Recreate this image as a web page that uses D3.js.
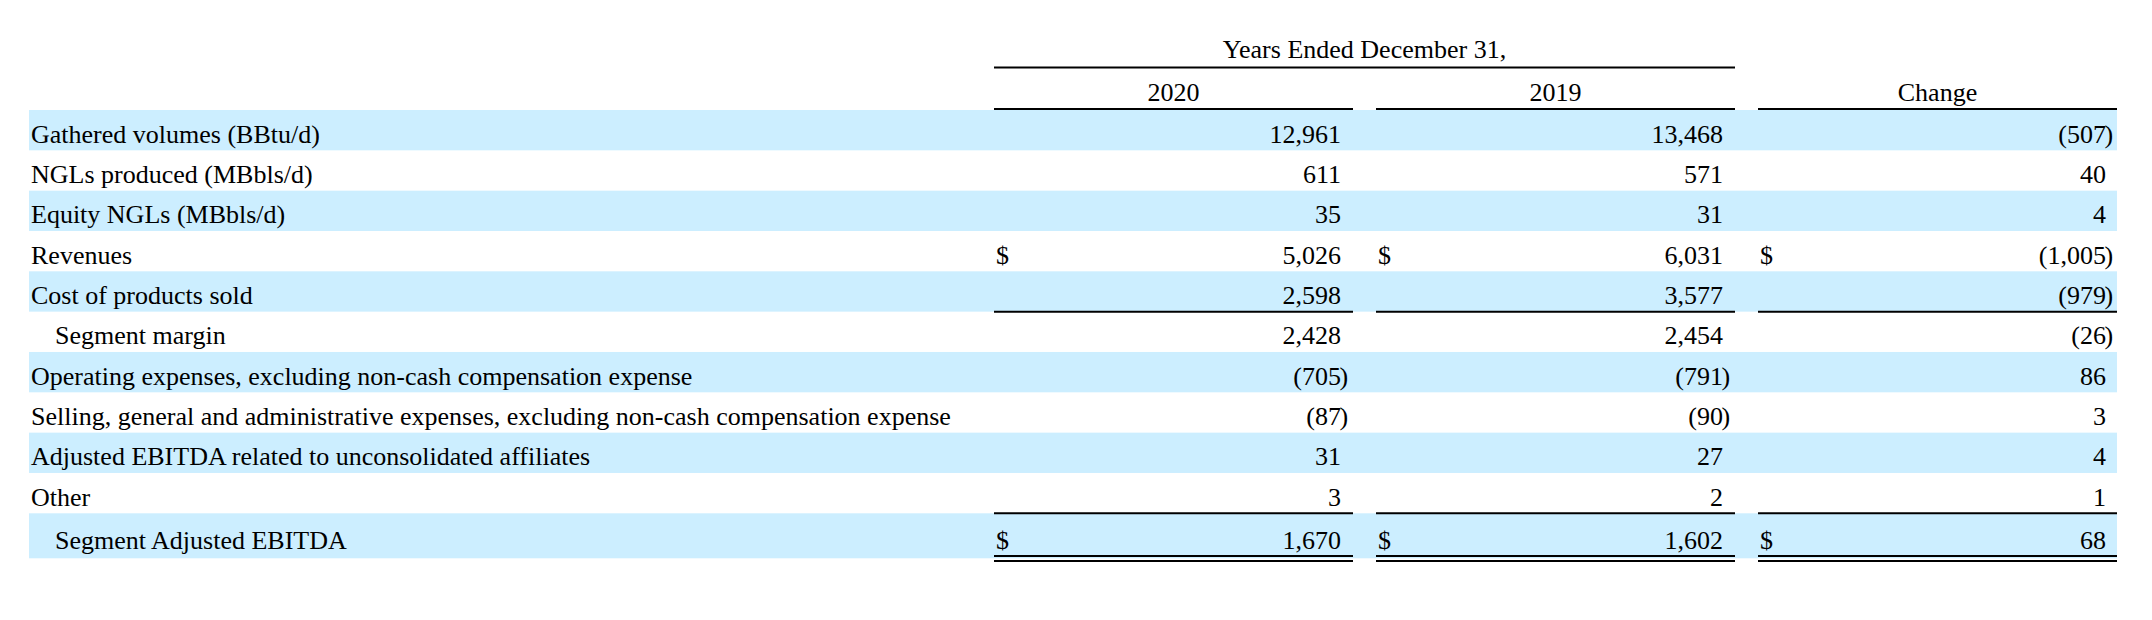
<!DOCTYPE html>
<html>
<head>
<meta charset="utf-8">
<script src="https://cdn.jsdelivr.net/npm/d3@7/dist/d3.min.js"></script>
<style>
  html, body { margin: 0; padding: 0; background: #ffffff; }
  svg { display: block; }
  text { font-family: "Liberation Serif", "Times New Roman", Times, serif; fill: #000; }
</style>
</head>
<body>
<svg id="chart" width="2152" height="620"></svg>
<script>
// ---- data ----
const headerTitle = "Years Ended December 31,";
const columnHeaders = ["2020", "2019", "Change"];
const rowLabels = [
  "Gathered volumes (BBtu/d)",
  "NGLs produced (MBbls/d)",
  "Equity NGLs (MBbls/d)",
  "Revenues",
  "Cost of products sold",
  "Segment margin",
  "Operating expenses, excluding non-cash compensation expense",
  "Selling, general and administrative expenses, excluding non-cash compensation expense",
  "Adjusted EBITDA related to unconsolidated affiliates",
  "Other",
  "Segment Adjusted EBITDA"
];
const values2020 = [12961, 611, 35, 5026, 2598, 2428, -705, -87, 31, 3, 1670];
const values2019 = [13468, 571, 31, 6031, 3577, 2454, -791, -90, 27, 2, 1602];
const valuesChange = [-507, 40, 4, -1005, -979, -26, 86, 3, 4, 1, 68];
const dollarRows = ["Revenues", "Segment Adjusted EBITDA"];
const subtotalRows = ["Segment margin", "Segment Adjusted EBITDA"];

// ---- layout ----
const svg = d3.select("#chart");
const fontSize = 26;
const bandLeft = 29, bandRight = 2117;
const cols = [
  { key: "2020", x0: 994, x1: 1353, numRight: 1341, values: values2020 },
  { key: "2019", x0: 1376, x1: 1735, numRight: 1723, values: values2019 },
  { key: "Change", x0: 1758, x1: 2117, numRight: 2106, values: valuesChange }
];
const lastRow = rowLabels.length - 1;
const y = d3.scaleLinear().domain([0, lastRow]).range([110, 513.3]);
const rowH = i => (i === lastRow ? 45 : 40.33);
const baseline = i => y(i) + (i === lastRow ? 35.5 : 32.6);
const fmt = d3.format(",");

// bands
svg.append("g").selectAll("rect")
  .data(rowLabels.map((d, i) => i).filter(i => i % 2 === 0))
  .join("rect")
  .attr("x", bandLeft)
  .attr("y", i => y(i))
  .attr("width", bandRight - bandLeft)
  .attr("height", i => rowH(i))
  .attr("fill", "#cceeff");

// header
svg.append("text")
  .attr("x", (cols[0].x0 + cols[1].x1) / 2)
  .attr("y", 58)
  .attr("text-anchor", "middle")
  .attr("font-size", fontSize)
  .text(headerTitle);
svg.append("line")
  .attr("x1", cols[0].x0).attr("x2", cols[1].x1)
  .attr("y1", 67.5).attr("y2", 67.5)
  .attr("stroke", "#000").attr("stroke-width", 2);

cols.forEach((c, ci) => {
  svg.append("text")
    .attr("x", (c.x0 + c.x1) / 2)
    .attr("y", 101)
    .attr("text-anchor", "middle")
    .attr("font-size", fontSize)
    .text(columnHeaders[ci]);
  svg.append("line")
    .attr("x1", c.x0).attr("x2", c.x1)
    .attr("y1", 109).attr("y2", 109)
    .attr("stroke", "#000").attr("stroke-width", 2);
});

// labels
svg.append("g").selectAll("text")
  .data(rowLabels)
  .join("text")
  .attr("x", d => subtotalRows.includes(d) ? 55 : 31)
  .attr("y", (d, i) => baseline(i))
  .attr("font-size", fontSize)
  .text(d => d);

// values
cols.forEach(c => {
  const g = svg.append("g");
  c.values.forEach((v, i) => {
    const by = baseline(i);
    if (v < 0) {
      g.append("text").attr("x", c.numRight).attr("y", by)
        .attr("text-anchor", "end").attr("font-size", fontSize)
        .text("(" + fmt(-v));
      g.append("text").attr("x", c.numRight - 1.5).attr("y", by)
        .attr("text-anchor", "start").attr("font-size", fontSize)
        .text(")");
    } else {
      g.append("text").attr("x", c.numRight).attr("y", by)
        .attr("text-anchor", "end").attr("font-size", fontSize)
        .text(fmt(v));
    }
    if (dollarRows.includes(rowLabels[i])) {
      g.append("text").attr("x", c.x0 + 2).attr("y", by)
        .attr("font-size", fontSize).text("$");
    }
  });
  const iCost = rowLabels.indexOf("Cost of products sold");
  const iOther = rowLabels.indexOf("Other");
  [y(iCost) + rowH(iCost), y(iOther) + rowH(iOther)].forEach(ly => {
    g.append("line")
      .attr("x1", c.x0).attr("x2", c.x1)
      .attr("y1", ly).attr("y2", ly)
      .attr("stroke", "#000").attr("stroke-width", 2);
  });
  [556, 561].forEach(ly => {
    g.append("line")
      .attr("x1", c.x0).attr("x2", c.x1)
      .attr("y1", ly).attr("y2", ly)
      .attr("stroke", "#000").attr("stroke-width", 2);
  });
});
</script>
</body>
</html>
